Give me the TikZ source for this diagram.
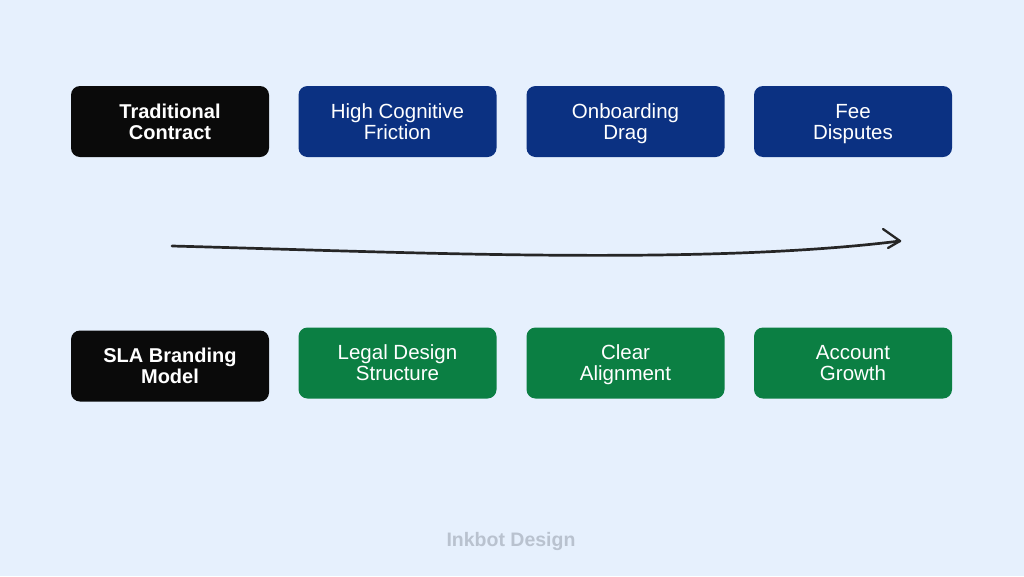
\documentclass[tikz,border=0pt]{standalone}
\usepackage{fontspec}
\setmainfont{Liberation Sans}
\definecolor{bgc}{HTML}{E6F0FD}
\definecolor{blkc}{HTML}{0A0A0A}
\definecolor{bluec}{HTML}{0B3182}
\definecolor{greenc}{HTML}{0B7F43}
\definecolor{wmc}{HTML}{B9C2CF}
\definecolor{penc}{HTML}{262626}
\newcommand{\twol}[2]{\rule{0pt}{20pt}#1\\#2\rule[-6pt]{0pt}{6pt}}
\begin{document}
\begin{tikzpicture}[x=1pt,y=-1pt,
  card/.style={rounded corners=9pt, minimum width=198pt, minimum height=71pt,
    inner sep=0pt, align=center, text=white,
    font=\fontsize{20.5}{21}\selectfont},
  headcard/.style={card, fill=blkc, font=\fontsize{20}{21}\selectfont\bfseries},
  bluecard/.style={card, fill=bluec},
  greencard/.style={card, fill=greenc},
  pen/.style={draw=penc, line width=2.7pt, line cap=round, line join=round}]
\fill[bgc] (0,0) rectangle (1024,576);
\useasboundingbox (0,0) rectangle (1024,576);

\node[headcard] (tc) at (170,121.5) {\twol{Traditional}{Contract}};
\node[bluecard] (hc) at (397.5,121.5) {\twol{High Cognitive}{Friction}};
\node[bluecard] (ob) at (625.5,121.5) {\twol{Onboarding}{Drag}};
\node[bluecard] (fd) at (853,121.5) {\twol{Fee}{Disputes}};

\node[headcard] (sla) at (170,366) {\twol{SLA Branding}{Model}};
\node[greencard] (ld) at (397.5,363) {\twol{Legal Design}{Structure}};
\node[greencard] (ca) at (625.5,363) {\twol{Clear}{Alignment}};
\node[greencard] (ag) at (853,363) {\twol{Account}{Growth}};

\coordinate (s) at (172,246);
\coordinate (e) at (900,241);
\draw[pen] (s) .. controls (400,252) and (700,266) .. (e);
\draw[pen, line width=2.3pt] (883,229) -- (e) -- (888,248);

\node[text=wmc, font=\fontsize{19.5}{21}\selectfont\bfseries] (wm) at (511,541) {Inkbot Design};
\end{tikzpicture}
\end{document}
